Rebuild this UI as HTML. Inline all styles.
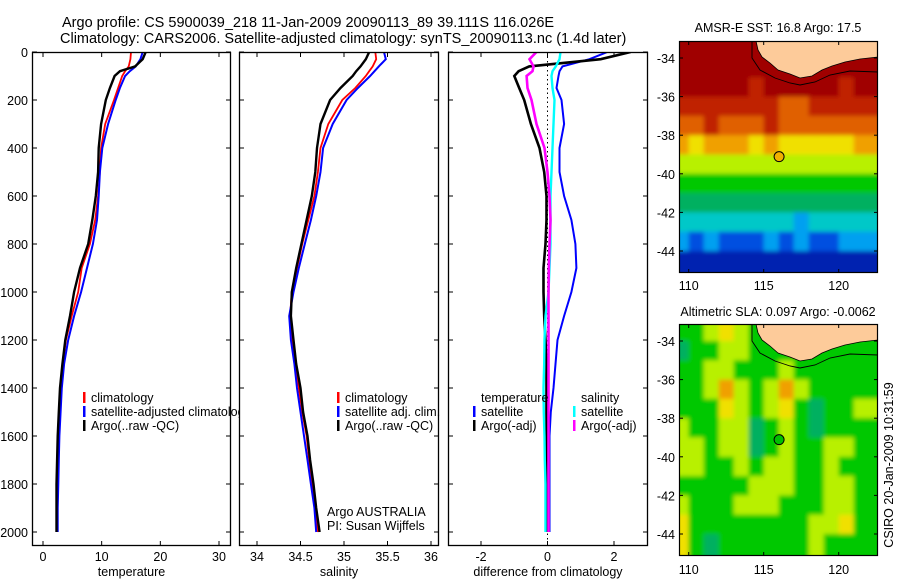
<!DOCTYPE html>
<html><head><meta charset="utf-8">
<style>
html,body{margin:0;padding:0;background:#fff;}
svg{display:block;font-family:"Liberation Sans",sans-serif;}
text{fill:#000;}
</style></head>
<body>
<svg id="fig" width="900" height="580" viewBox="0 0 900 580">
<defs><filter id="soft" x="-5%" y="-5%" width="110%" height="110%"><feGaussianBlur stdDeviation="2.2"/></filter></defs>
<text x="62" y="27" font-size="14.5">Argo profile: CS 5900039_218 11-Jan-2009 20090113_89 39.111S 116.026E</text>
<text x="60" y="43" font-size="14.5">Climatology: CARS2006. Satellite-adjusted climatology: synTS_20090113.nc (1.4d later)</text>
<text x="778" y="32" font-size="12.5" text-anchor="middle">AMSR-E SST: 16.8 Argo: 17.5</text>
<text x="778" y="316" font-size="12.5" text-anchor="middle">Altimetric SLA: 0.097 Argo: -0.0062</text>
<text transform="translate(893,465) rotate(-90)" font-size="12.5" text-anchor="middle">CSIRO 20-Jan-2009 10:31:59</text>
<g id="plots"></g>
</svg>
<script>
// depth levels (m)
const depths = [0,30,60,80,100,150,200,300,400,500,600,700,800,900,1000,1100,1200,1300,1400,1500,1600,1700,1800,1900,2000];
// temperature profiles
const tempClim = [15.0,14.9,14.6,14.0,13.5,12.8,12.1,10.6,9.9,9.7,9.4,8.9,8.0,6.6,6.0,4.9,3.9,3.4,3.1,2.9,2.7,2.6,2.5,2.4,2.4];
const tempSat  = [17.0,16.6,15.8,14.8,14.0,13.1,12.4,11.1,10.1,9.7,9.5,9.2,8.5,7.5,6.5,5.3,4.3,3.6,3.2,3.0,2.8,2.7,2.6,2.5,2.5];
const tempArgo = [17.5,17.0,15.7,13.1,12.2,11.4,10.7,9.9,9.5,9.4,9.0,8.4,7.7,6.3,5.3,4.6,3.8,3.3,2.9,2.7,2.5,2.4,2.3,2.3,2.3];
// salinity profiles
const salClim = [35.36,35.37,35.33,35.29,35.25,35.13,34.98,34.82,34.73,34.70,34.66,34.59,34.52,34.46,34.40,34.38,34.40,34.44,34.48,34.52,34.57,34.60,34.63,34.67,34.70];
const salSat  = [35.46,35.48,35.40,35.35,35.30,35.16,35.03,34.87,34.76,34.73,34.68,34.62,34.55,34.48,34.42,34.37,34.39,34.43,34.46,34.50,34.54,34.58,34.62,34.66,34.68];
const salArgo = [35.29,35.25,35.19,35.14,35.10,34.96,34.84,34.73,34.69,34.67,34.63,34.57,34.51,34.45,34.40,34.39,34.42,34.45,34.50,34.53,34.58,34.61,34.65,34.68,34.72];
// differences from climatology
const dTempSat  = [1.8,1.26,0.45,0.36,0.33,0.27,0.42,0.50,0.36,0.36,0.50,0.72,0.84,0.87,0.72,0.50,0.30,0.24,0.18,0.10,0.06,0.06,0.06,0.06,0.06];
const dTempArgo = [2.5,1.6,-0.55,-0.87,-1.0,-0.85,-0.70,-0.50,-0.24,-0.10,-0.03,-0.03,-0.06,-0.12,-0.12,-0.10,-0.06,-0.03,-0.03,-0.03,-0.03,-0.03,-0.03,-0.03,-0.03];
const dSalSat   = [0.39,0.36,0.25,0.15,0.12,0.15,0.21,0.18,0.15,0.12,0.09,0.09,0.09,0.06,0.03,-0.06,-0.09,-0.10,-0.12,-0.11,-0.09,-0.08,-0.06,-0.06,-0.06];
const dSalArgo  = [-0.33,-0.54,-0.42,-0.45,-0.63,-0.60,-0.48,-0.33,-0.09,0.0,0.06,0.09,0.06,0.04,0.03,0.03,0.03,0.03,0.03,0.03,0.03,0.03,0.03,0.03,0.03];
// tick labels
const depthTicks = [0,200,400,600,800,1000,1200,1400,1600,1800,2000];
const tempTicks = [0,10,20,30];
const salTicks = [34,34.5,35,35.5,36];
const diffTicks = [-2,0,2];
const latTicks = [-34,-36,-38,-40,-42,-44];
const lonTicks = [110,115,120];
// map grids: rows lat -33.5..-44.5, cols lon 109.5..122.5
const sstGrid = [
[21,21,21,21,21,21,21,21,21,21,21,21,21],
[21,21,21,21,21,21,21,21,21,21,21,21,21],
[21,21,20.8,20.8,21,20.5,21,21,20.8,20.8,21,20.6,20.8],
[20.3,20.4,20.0,20.2,20.0,20.5,20.6,19.8,19.8,20.0,20.2,20.2,19.9],
[19.2,19.5,20.0,19.7,19.6,19.8,20.3,19.6,19.2,19.5,19.3,19.4,19.3],
[18.4,18.3,18.6,18.9,18.8,18.2,18.6,18.0,18.3,18.0,17.9,18.2,18.5],
[17.2,17.0,16.8,17.3,17.0,17.4,16.9,17.2,17.2,17.0,17.3,17.3,17.0],
[16.3,16.2,16.1,16.3,16.3,16.4,16.2,16.3,16.1,16.4,16.2,16.5,16.3],
[15.5,15.6,15.5,15.4,15.5,15.6,15.4,15.5,15.6,15.5,15.6,15.6,15.5],
[14.7,14.6,14.5,14.7,14.6,14.5,14.6,14.6,14.4,14.5,14.6,14.6,14.7],
[13.8,13.7,13.9,13.7,13.6,13.7,13.8,13.7,13.8,13.7,13.6,13.8,13.9],
[12.6,12.3,12.5,12.2,12.6,12.4,12.3,12.2,12.2,12.5,12.4,12.6,12.5]];
const slaGrid = [
[6,6,7,8,7,6,6,6,6,6,6,6,6],
[5,6,6,7,7,6,6,6,6,6,6,6,6],
[6,6,7,7,6,6,6,7,6,6,6,6,6],
[6,6,7,9,7,6,7,9,7,6,6,6,6],
[6,6,6,8,7,6,7,8,6,5,6,6,7],
[7,6,6,7,7,5,6,7,6,5,6,6,6],
[7,7,6,7,7,5,6,7,6,6,7,7,6],
[7,7,6,6,7,6,7,7,6,6,7,6,6],
[6,6,6,6,6,7,7,7,6,6,7,7,6],
[7,6,6,6,7,7,7,6,6,6,7,7,6],
[8,6,6,6,6,6,6,6,6,7,7,8,6],
[8,6,5,6,6,6,6,6,6,7,6,6,6]];
const gridLat0 = -33.5, gridLon0 = 109.5;
const argoLon = 116.026, argoLat = -39.111;

const palette = ['#00007a','#0020b0','#0050e0','#00a0f0','#00c8c8','#00b060','#00c800','#b8f000','#f0e000','#f0a000','#e06000','#c02000','#a00000'];
const NS='http://www.w3.org/2000/svg';
const root=document.getElementById('plots');
function mk(tag,attrs,parent){const e=document.createElementNS(NS,tag);for(const k in attrs)e.setAttribute(k,attrs[k]);(parent||root).appendChild(e);return e;}
function lin(d0,d1,r0,r1){return v=>r0+(v-d0)*(r1-r0)/(d1-d0);}
const yD=lin(0,2000,52,532);

function panel(name,x0,x1,xs,ticks,label,series,extraGroup){
  const g=mk('g',{});
  
  
  const cid='clip-'+name;
  const cp=mk('clipPath',{id:cid},g);mk('rect',{x:x0,y:52,width:x1-x0,height:494},cp);
  const inner=mk('g',{'clip-path':'url(#'+cid+')'},g);
  if(extraGroup) extraGroup(inner);
  series.forEach(s=>{
    const pts=depths.map((d,i)=>xs(s.v[i]).toFixed(1)+','+yD(d).toFixed(1)).join(' ');
    const p=mk('polyline',{points:pts,fill:'none',stroke:s.c,'stroke-width':s.w,'stroke-linejoin':'miter'},inner);
    
    
  });
  mk('rect',{x:x0+0.5,y:52.5,width:x1-x0-1,height:493,fill:'none',stroke:'#000','stroke-width':1.3},g);
  depthTicks.forEach(d=>{const y=yD(d);mk('line',{x1:x0,x2:x0+5,y1:y,y2:y,stroke:'#000'},g);mk('line',{x1:x1-5,x2:x1,y1:y,y2:y,stroke:'#000'},g);});
  ticks.forEach(t=>{const x=xs(t);mk('line',{x1:x,x2:x,y1:546,y2:541,stroke:'#000'},g);mk('line',{x1:x,x2:x,y1:52,y2:57,stroke:'#000'},g);
    const tx=mk('text',{x:x,y:561,'font-size':12.5,'text-anchor':'middle'},g);tx.textContent=t;
    
    });
  const lt=mk('text',{x:(x0+x1)/2,y:576,'font-size':12.5,'text-anchor':'middle'},g);lt.textContent=label;
  
  
  return g;
}
depthTicks.forEach(d=>{const t=mk('text',{x:28,y:yD(d)+5,'font-size':12.5,'text-anchor':'end'});t.textContent=d;
  
  });

const xT=lin(0,30,43,219), xS=lin(34,36,257,431), xF=lin(-2,2,481,614);
panel('temperature-panel',32,231,xT,tempTicks,'temperature',[
  {v:tempClim,c:'#f00',w:1.8,n:'temp-climatology-line'},
  {v:tempSat,c:'#00f',w:2,n:'temp-satellite-line'},
  {v:tempArgo,c:'#000',w:2.4,n:'temp-argo-line'}]);
panel('salinity-panel',239,439,xS,salTicks,'salinity',[
  {v:salClim,c:'#f00',w:1.8,n:'sal-climatology-line'},
  {v:salSat,c:'#00f',w:2,n:'sal-satellite-line'},
  {v:salArgo,c:'#000',w:2.4,n:'sal-argo-line'}]);
panel('difference-panel',448,648,xF,diffTicks,'difference from climatology',[
  {v:dTempSat,c:'#00f',w:2,n:'diff-temp-satellite-line'},
  {v:dTempArgo,c:'#000',w:2.6,n:'diff-temp-argo-line'},
  {v:dSalSat,c:'#0ff',w:2.4,n:'diff-sal-satellite-line'},
  {v:dSalArgo,c:'#f0f',w:2.6,n:'diff-sal-argo-line'}],
  g=>{mk('line',{x1:xF(0),x2:xF(0),y1:52,y2:546,stroke:'#000','stroke-dasharray':'1.5,3','stroke-width':1},g);});

function legend(items,x,y){
  const g=mk('g',{});
  
  
  items.forEach((it,i)=>{
    const yy=y+i*14;
    if(it.c){mk('rect',{x:x,y:yy-10,width:2.5,height:11,fill:it.c},g);}
    const t=mk('text',{x:x+8,y:yy,'font-size':12.5},g);t.textContent=it.t;
    
    
  });
  return g;
}
const cpL=mk('clipPath',{id:'clipLeg1'});mk('rect',{x:32,y:52,width:207,height:494},cpL);
const l1=legend([{c:'#f00',t:'climatology'},{c:'#00f',t:'satellite-adjusted climatology'},{c:'#000',t:'Argo(..raw -QC)'}],83,402);
l1.setAttribute('clip-path','url(#clipLeg1)');
legend([{c:'#f00',t:'climatology'},{c:'#00f',t:'satellite adj. clim.'},{c:'#000',t:'Argo(..raw -QC)'}],337,402);
legend([{t:'temperature'},{c:'#00f',t:'satellite'},{c:'#000',t:'Argo(-adj)'}],473,402);
legend([{t:'salinity'},{c:'#0ff',t:'satellite'},{c:'#f0f',t:'Argo(-adj)'}],573,402);
let t1=mk('text',{x:327,y:516,'font-size':12.5});t1.textContent='Argo AUSTRALIA';


let t2=mk('text',{x:327,y:530,'font-size':12.5});t2.textContent='PI: Susan Wijffels';



function map(name,top,grid,colorFn,dotColor,lonLabelY){
  const x0=679,x1=878,y1=top+232;
  const xL=lin(110,120,688.7,838.7), yL=lin(-34,-44,top+17,top+210);
  const g=mk('g',{});
  
  
  const cid='clip-'+name;const cp=mk('clipPath',{id:cid},g);mk('rect',{x:x0,y:top,width:x1-x0,height:232},cp);
  const inner=mk('g',{'clip-path':'url(#'+cid+')'},g);
  const cells=mk('g',{filter:'url(#soft)'},inner);
  grid.forEach((row,r)=>row.forEach((v,c)=>{
    const lat=gridLat0-r, lon=gridLon0+c;
    let ya=yL(lat+0.5), yb=yL(lat-0.5), xa=xL(lon-0.5), xb=xL(lon+0.5);
    if(r===0) ya=top-10; if(r===grid.length-1) yb=y1+10;
    if(c===0) xa=x0-10; if(c===row.length-1) xb=x1+10;
    const rc=mk('rect',{x:xa.toFixed(1),y:ya.toFixed(1),width:(xb-xa+0.6).toFixed(1),height:(yb-ya+0.6).toFixed(1),fill:colorFn(v)},cells);
    
    
  }));
  const o=top-41;
  const land=mk('polygon',{points:`756,${top} 758,${50+o} 762,${57+o} 770,${63+o} 778,${70+o} 790,${74+o} 800,${78+o} 812,${76+o} 822,${70+o} 832,${66+o} 845,${62+o} 860,${59+o} 878,${57+o} 878,${top}`,fill:'#fdcb9a',stroke:'#000','stroke-width':0.8},inner);
  
  
  mk('polyline',{points:`752,${top} 752,${58+o} 760,${70+o} 775,${78+o} 790,${83+o} 800,${85+o} 815,${82+o} 830,${75+o} 850,${71+o} 878,${72+o}`,fill:'none',stroke:'#000','stroke-width':0.9},inner);
  const dot=mk('circle',{cx:xL(argoLon),cy:yL(argoLat),r:5,fill:dotColor,stroke:'#000','stroke-width':1},inner);
  
  
  mk('rect',{x:x0+0.5,y:top+0.5,width:x1-x0-1,height:231,fill:'none',stroke:'#000','stroke-width':1.2},g);
  latTicks.forEach(l=>{const y=yL(l);mk('line',{x1:x0,x2:x0+4,y1:y,y2:y,stroke:'#000'},g);mk('line',{x1:x1-4,x2:x1,y1:y,y2:y,stroke:'#000'},g);
    const t=mk('text',{x:675,y:y+5,'font-size':12.5,'text-anchor':'end'},g);t.textContent=l;
    
    });
  lonTicks.forEach(l=>{const x=xL(l);mk('line',{x1:x,x2:x,y1:top,y2:top+4,stroke:'#000'},g);mk('line',{x1:x,x2:x,y1:y1,y2:y1-4,stroke:'#000'},g);
    const t=mk('text',{x:x,y:lonLabelY,'font-size':12.5,'text-anchor':'middle'},g);t.textContent=l;
    
    });
}
const sstIdx=lin(11.8,21,0,12);
map('sst-map',41,sstGrid,v=>palette[Math.max(0,Math.min(12,Math.round(sstIdx(v))))],'#f0b000',290);
map('sla-map',324,slaGrid,v=>palette[v],'#00c000',574);
</script>
</body></html>
